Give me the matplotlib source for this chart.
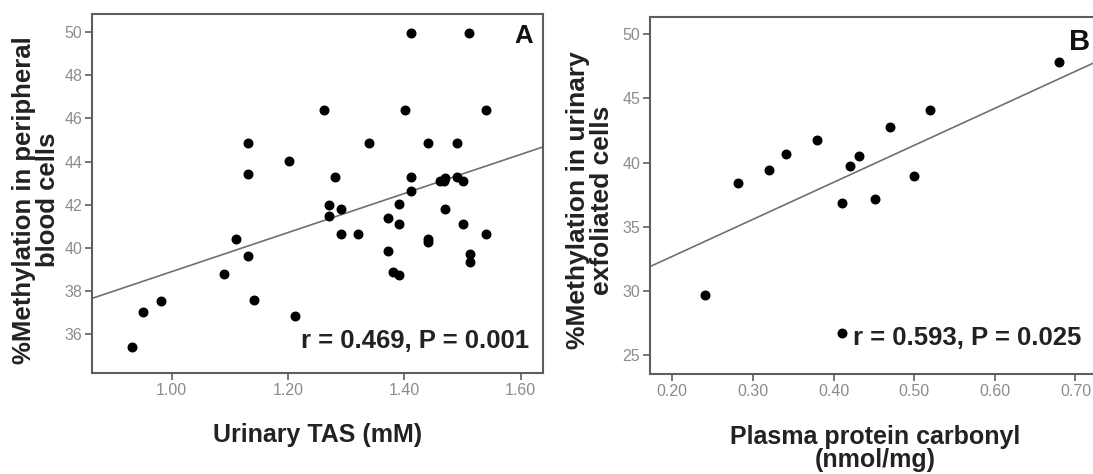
import numpy as np
import matplotlib
matplotlib.use("Agg")
import matplotlib.pyplot as plt

plt.rcParams['font.family'] = ['Liberation Sans', 'DejaVu Sans']

# Panel A: urinary TAS vs methylation in peripheral blood cells
tas = [0.931, 0.951, 0.982, 1.090, 1.111, 1.132, 1.142, 1.132, 1.132, 1.201,
       1.212, 1.261, 1.271, 1.271, 1.281, 1.291, 1.291, 1.321, 1.340, 1.371,
       1.371, 1.380, 1.391, 1.390, 1.390, 1.401, 1.411, 1.411, 1.411, 1.440,
       1.440, 1.440, 1.461, 1.468, 1.470, 1.470, 1.490, 1.490, 1.500, 1.500,
       1.511, 1.512, 1.512, 1.540, 1.540]
meth_blood = [35.38, 37.02, 37.52, 38.79, 40.40, 39.62, 37.58, 44.85, 43.41, 44.03,
              36.81, 46.38, 42.00, 41.48, 43.30, 41.80, 40.63, 40.63, 44.85, 41.37,
              39.85, 38.87, 38.73, 42.03, 41.12, 46.38, 49.95, 43.30, 42.65, 44.85,
              40.42, 40.28, 43.10, 43.10, 43.25, 41.80, 44.85, 43.27, 43.08, 41.12,
              49.95, 39.70, 39.34, 46.38, 40.63]
fit_a = [9.07, 29.82]  # slope, intercept

# Panel B: plasma protein carbonyl vs methylation in urinary exfoliated cells
carbonyl = [0.281, 0.320, 0.341, 0.380, 0.420, 0.431, 0.410, 0.451, 0.470,
            0.500, 0.520, 0.680, 0.240, 0.410]
meth_urine = [38.43, 39.42, 40.67, 41.76, 39.74, 40.54, 36.87, 37.16, 42.80,
              38.96, 44.10, 47.86, 29.66, 26.74]
fit_b = [28.85, 26.92]

W, H = 1093, 474
fig = plt.figure(figsize=(W / 100, H / 100), dpi=100)

spine_c = '#5e5e5e'
tick_c = '#8c8c8c'


def style(ax):
    for s in ax.spines.values():
        s.set_color(spine_c)
        s.set_linewidth(1.5)
    ax.tick_params(direction='out', length=5, width=1.2, color=spine_c,
                   labelcolor=tick_c, labelsize=11.5, pad=2)


# ---- panel A
axA = fig.add_axes([92.3 / W, 1 - 373.3 / H, 450.4 / W, 359.3 / H])
axA.scatter(tas, meth_blood, s=38, c='black', zorder=3)
xa = np.array([0.8635, 1.6378])
axA.plot(xa, fit_a[0] * xa + fit_a[1], color='#707070', lw=1.2)
axA.set_xlim(0.8635, 1.6378)
axA.set_ylim(34.17, 50.85)
axA.set_xticks([1.00, 1.20, 1.40, 1.60])
axA.set_xticklabels(['1.00', '1.20', '1.40', '1.60'])
axA.set_yticks([36, 38, 40, 42, 44, 46, 48, 50])
style(axA)
axA.text(0.9696, 0.0704, 'r = 0.469, P = 0.001', transform=axA.transAxes,
         ha='right', va='baseline', fontsize=18.5, fontweight='bold', color='#222222')
axA.text(0.9778, 0.9201, 'A', transform=axA.transAxes, ha='right', va='baseline',
         fontsize=18.5, fontweight='bold', color='#111111')

fig.text(36 / W, 1 - 200 / H, '%Methylation in peripheral\nblood cells', rotation=90,
         ha='center', va='center', multialignment='center', fontsize=18.5,
         fontweight='bold', color='#222222', linespacing=1.0)
fig.text(317.5 / W, 1 - 423 / H, 'Urinary TAS (mM)', ha='center', va='top',
         fontsize=18, fontweight='bold', color='#222222')

# ---- panel B
axB = fig.add_axes([650 / W, 1 - 374 / H, 450 / W, 357.3 / H])
axB.scatter(carbonyl, meth_urine, s=38, c='black', zorder=3)
xb = np.array([0.1723, 0.7304])
axB.plot(xb, fit_b[0] * xb + fit_b[1], color='#707070', lw=1.2)
axB.set_xlim(0.1723, 0.7304)
axB.set_ylim(23.52, 51.37)
axB.set_xticks([0.20, 0.30, 0.40, 0.50, 0.60, 0.70])
axB.set_xticklabels(['0.20', '0.30', '0.40', '0.50', '0.60', '0.70'])
axB.set_yticks([25, 30, 35, 40, 45, 50])
style(axB)
axB.text(0.9587, 0.0812, 'r = 0.593, P = 0.025', transform=axB.transAxes,
         ha='right', va='baseline', fontsize=18.5, fontweight='bold', color='#222222')
axB.text(0.9778, 0.9068, 'B', transform=axB.transAxes, ha='right', va='baseline',
         fontsize=21, fontweight='bold', color='#111111')

fig.text(590 / W, 1 - 200 / H, '%Methylation in urinary\nexfoliated cells', rotation=90,
         ha='center', va='center', multialignment='center', fontsize=19,
         fontweight='bold', color='#222222', linespacing=1.0)
fig.text(875 / W, 1 - 425 / H, 'Plasma protein carbonyl\n(nmol/mg)', ha='center',
         va='top', fontsize=18, fontweight='bold', color='#222222', linespacing=0.95)

fig.savefig('out.png', dpi=100)
